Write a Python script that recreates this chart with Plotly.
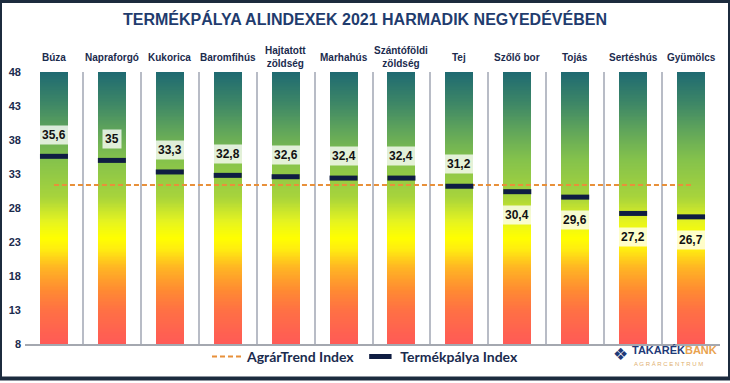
import numpy as np
import plotly.graph_objects as go

categories = ["Búza", "Napraforgó", "Kukorica", "Baromfihús", "Hajtatott zöldség",
              "Marhahús", "Szántóföldi zöldség", "Tej", "Szőlő bor", "Tojás",
              "Sertéshús", "Gyümölcs"]
cat_labels = ["Búza", "Napraforgó", "Kukorica", "Baromfihús", "Hajtatott<br>zöldség",
              "Marhahús", "Szántóföldi<br>zöldség", "Tej", "Szőlő bor", "Tojás",
              "Sertéshús", "Gyümölcs"]
termekpalya = [35.6, 35.0, 33.3, 32.8, 32.6, 32.4, 32.4, 31.2, 30.4, 29.6, 27.2, 26.7]
value_labels = ["35,6", "35", "33,3", "32,8", "32,6", "32,4", "32,4", "31,2", "30,4", "29,6", "27,2", "26,7"]
agrartrend = 31.4
y_ticks = [8, 13, 18, 23, 28, 33, 38, 43, 48]

Y0, Y1 = 8, 48
NAVY = "#1b2b4e"
n = len(categories)
xpos = list(range(n))

# figure pixel geometry helpers
W, H = 730, 383
ML, MR, MT, MB = 25, 10, 72, 35
PW, PH = W - ML - MR, H - MT - MB
def px(x):
    return (x - ML) / PW
def py(y):
    return (H - MB - y) / PH

# gradient bars: heatmap columns alternating gap (NaN) and bar
hw = 0.2414
edges = [-0.5]
for i in xpos:
    edges += [i - hw, i + hw]
edges += [n - 0.5]
ygrid = np.arange(Y0, Y1 + 0.001, 0.2)
ncol = len(edges) - 1
z = np.full((len(ygrid), ncol), np.nan)
for j in range(ncol):
    if j % 2 == 1:
        z[:, j] = ygrid
colorscale = [
    [0.00, "#ff5a57"],
    [0.12, "#ff7045"],
    [0.20, "#ff8c32"],
    [0.28, "#ffb524"],
    [0.35, "#ffee10"],
    [0.39, "#ffff00"],
    [0.45, "#e6f420"],
    [0.54, "#a8d43c"],
    [0.68, "#84c24c"],
    [0.78, "#62a75a"],
    [0.88, "#3f8866"],
    [1.00, "#1f6a72"],
]

fig = go.Figure()
fig.add_trace(go.Heatmap(
    x=edges, y=ygrid, z=z, colorscale=colorscale, zmin=Y0, zmax=Y1,
    showscale=False, hoverinfo="skip", showlegend=False,
))
fig.add_trace(go.Scatter(
    x=xpos, y=[agrartrend] * n, mode="lines",
    line=dict(color="#e8903a", width=2, dash="5px,3px"),
    name="AgrárTrend Index", hoverinfo="skip",
))
fig.add_trace(go.Scatter(
    x=xpos, y=termekpalya, mode="markers",
    marker=dict(symbol="line-ew", size=20, line=dict(width=5, color="#0f1d42")),
    name="Termékpálya Index", text=categories,
))

annotations = []
for i, v, t in zip(xpos, termekpalya, value_labels):
    yy = v + 3.2 if v > 31.0 else v - 3.4
    annotations.append(dict(
        x=i, y=yy, xref="x", yref="y", text="<b>" + t + "</b>", showarrow=False,
        font=dict(family="Liberation Sans", size=12, color="#111111"),
        bgcolor="rgba(255,255,255,0.78)", borderpad=2,
    ))
for i, lab in zip(xpos, cat_labels):
    annotations.append(dict(
        x=i, y=py(57), xref="x", yref="paper", text="<b>" + lab + "</b>", showarrow=False,
        yanchor="middle", font=dict(family="Liberation Sans", size=10, color=NAVY),
    ))
# logo
annotations.append(dict(
    x=px(620), y=py(358), xref="paper", yref="paper", xanchor="center", yanchor="middle",
    text="❖", showarrow=False, font=dict(family="DejaVu Sans", size=17, color="#1f3a78"),
))
annotations.append(dict(
    x=px(630), y=py(354), xref="paper", yref="paper", xanchor="left", yanchor="middle",
    text="<b><span style='color:#1f3a78'>TAKARÉK</span><span style='color:#e9a24e'>BANK</span></b>",
    showarrow=False, font=dict(family="Liberation Sans", size=11),
))
annotations.append(dict(
    x=px(632), y=py(368), xref="paper", yref="paper", xanchor="left", yanchor="middle",
    text="A G R Á R C E N T R U M", showarrow=False,
    font=dict(family="Liberation Sans", size=6, color="#e0b070"),
))

fig.update_layout(
    width=W, height=H,
    margin=dict(l=ML, r=MR, t=MT, b=MB),
    paper_bgcolor="white", plot_bgcolor="white",
    title=dict(text="<b>TERMÉKPÁLYA ALINDEXEK 2021 HARMADIK NEGYEDÉVÉBEN</b>",
               x=0.5, xref="container", y=1 - 19 / H, yref="container",
               xanchor="center", yanchor="middle",
               font=dict(family="Liberation Sans", size=16, color="#1f3c6e")),
    xaxis=dict(range=[-0.5, n - 0.5], tickvals=[i - 0.5 for i in range(n + 1)],
               showgrid=True, gridcolor="#b8bcc6", gridwidth=2, zeroline=False,
               showline=True, linecolor="#a4a8b0", linewidth=2,
               showticklabels=False, ticks="", fixedrange=True),
    yaxis=dict(range=[Y0, Y1], tickvals=y_ticks, showgrid=False, zeroline=False,
               ticks="", ticklabelstandoff=3,
               tickfont=dict(family="Liberation Sans", size=11, color=NAVY, weight="bold")),
    legend=dict(orientation="h", x=px(365), y=py(361), xanchor="center", yanchor="middle",
                font=dict(family="Lato", size=14, color=NAVY, weight="bold"),
                bgcolor="rgba(0,0,0,0)", itemwidth=30),
    annotations=annotations,
    shapes=[dict(type="rect", xref="paper", yref="paper",
                 x0=px(0), x1=px(W), y0=py(H), y1=py(0),
                 line=dict(color="#1c2b3e", width=4), fillcolor="rgba(0,0,0,0)")],
    showlegend=True,
)

fig.write_html("out.html", post_script="document.body.style.margin='0';",
               config={"displayModeBar": False})
